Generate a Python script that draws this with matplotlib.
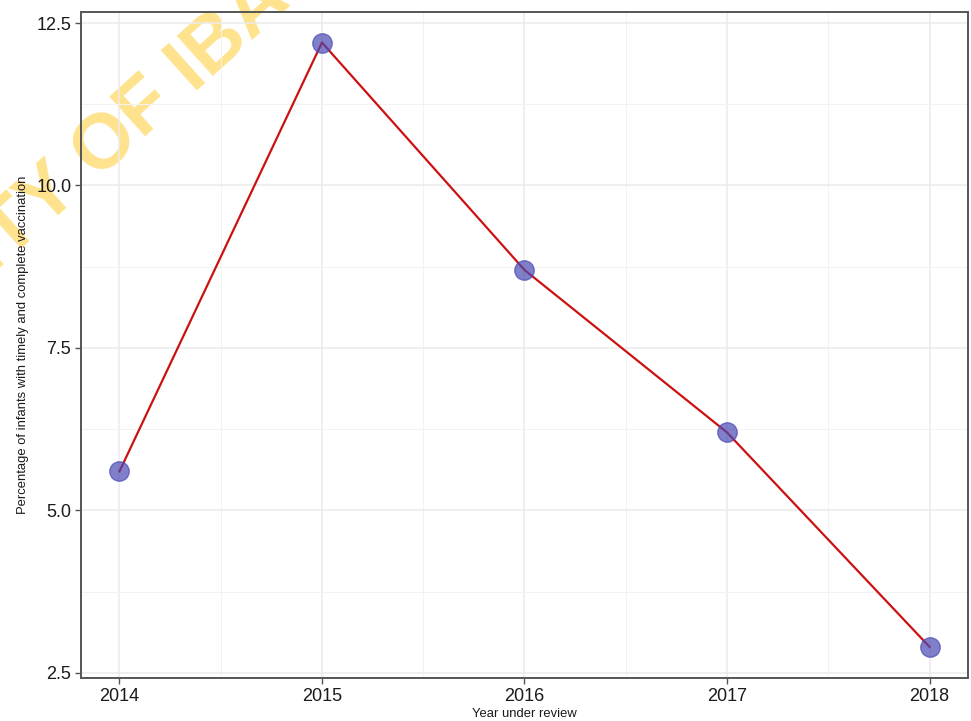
import matplotlib
matplotlib.use("Agg")
import matplotlib.pyplot as plt
from matplotlib.ticker import MultipleLocator

plt.rcParams['font.family'] = ['Liberation Sans', 'DejaVu Sans']

years = [2014, 2015, 2016, 2017, 2018]
coverage = [5.6, 12.2, 8.7, 6.2, 2.9]
year_labels = ['2014', '2015', '2016', '2017', '2018']
y_ticks = [2.5, 5.0, 7.5, 10.0, 12.5]

fig = plt.figure(figsize=(9.71, 7.21), dpi=100, facecolor='white')
ax = fig.add_axes([0.0834, 0.0596, 0.9135, 0.9238])
ax.patch.set_alpha(0.0)

ax.set_xlim(2013.81, 2018.19)
ax.set_ylim(2.42, 12.67)

ax.set_xticks(years)
ax.set_xticklabels(year_labels)
ax.set_yticks(y_ticks)
ax.set_yticklabels([f"{v:.1f}" for v in y_ticks])
ax.xaxis.set_minor_locator(MultipleLocator(0.5))
ax.yaxis.set_minor_locator(MultipleLocator(1.25))

ax.grid(which='major', color='#EBEBEB', linewidth=1.1, zorder=0)
ax.grid(which='minor', color='#F2F2F2', linewidth=0.7, zorder=0)
ax.set_axisbelow(True)

for s in ax.spines.values():
    s.set_color('#555555')
    s.set_linewidth(1.4)

ax.tick_params(which='major', length=4, width=1.0, color='#555555',
               labelsize=13, labelcolor='#1A1A1A', pad=3)
ax.tick_params(which='minor', length=0)

ax.plot(years, coverage, color='#CC1111', linewidth=1.6, zorder=3)
ax.plot(years, coverage, linestyle='none', marker='o', markersize=14,
        markerfacecolor='#4A4AB4', markeredgecolor='#4A4AB4',
        alpha=0.7, zorder=4)

ax.set_xlabel('Year under review', fontsize=9.4, color='#1A1A1A', labelpad=2)
ax.set_ylabel('Percentage of infants with timely and complete vaccination',
              fontsize=9.4, color='#1A1A1A', labelpad=5)

# diagonal watermark, kept beneath the plot content
fig.text(0.065, 0.745, 'UNIVERSITY OF IBADAN', fontsize=56, fontweight='bold',
         color='#FFD966', alpha=0.75, rotation=42, ha='center', va='center',
         rotation_mode='anchor', zorder=-1)

fig.savefig('out.png', dpi=100, facecolor='white')
